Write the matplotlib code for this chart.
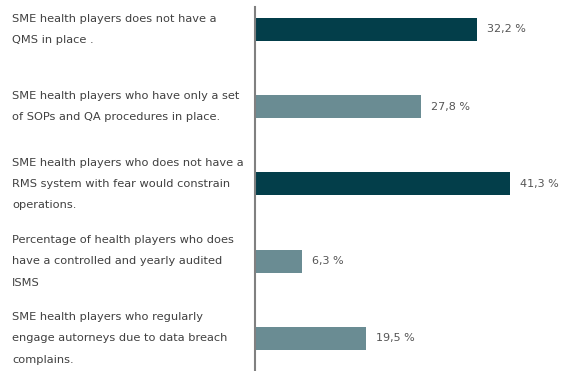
import matplotlib
matplotlib.use("Agg")
import matplotlib.pyplot as plt
import matplotlib.transforms as mtransforms

categories = [
    "SME health players does not have a\nQMS in place .",
    "SME health players who have only a set\nof SOPs and QA procedures in place.",
    "SME health players who does not have a\nRMS system with fear would constrain\noperations.",
    "Percentage of health players who does\nhave a controlled and yearly audited\nISMS",
    "SME health players who regularly\nengage autorneys due to data breach\ncomplains.",
]
# bar lengths as drawn in the picture
bar_values = [32.2, 24.1, 37.0, 6.8, 16.1]
# value labels as printed
value_labels = ["32,2 %", "27,8 %", "41,3 %", "6,3 %", "19,5 %"]
bar_colors = ["#033e4a", "#6a8c93", "#033e4a", "#6a8c93", "#6a8c93"]

W, H = 568, 371
fig = plt.figure(figsize=(W / 100, H / 100), dpi=100)
ax = fig.add_axes([255 / W, 0, (W - 255) / W, (H - 7) / H])

ypos = list(range(len(categories)))
ax.barh(ypos, bar_values, height=0.298, color=bar_colors, left=0)
ax.set_xlim(0, 313 / 6.894)
ax.set_ylim(4.421, -0.291)

for s in ["top", "right", "bottom"]:
    ax.spines[s].set_visible(False)
ax.spines["left"].set_color("#808080")
ax.spines["left"].set_linewidth(1.5)
ax.set_xticks([])
ax.set_yticks([])

offset = mtransforms.ScaledTranslation(10 / 100, 0, fig.dpi_scale_trans)
for y, v, lab in zip(ypos, bar_values, value_labels):
    ax.text(v, y, lab, transform=ax.transData + offset, va="center", ha="left",
            fontsize=8, color="#555555")

trans = mtransforms.blended_transform_factory(fig.transFigure, ax.transData)
for y, cat in zip(ypos, categories):
    ax.text(12 / W, y, cat, transform=trans, va="center", ha="left",
            fontsize=8.2, color="#404040", linespacing=2.42, clip_on=False)

fig.savefig("out.png", dpi=100)
